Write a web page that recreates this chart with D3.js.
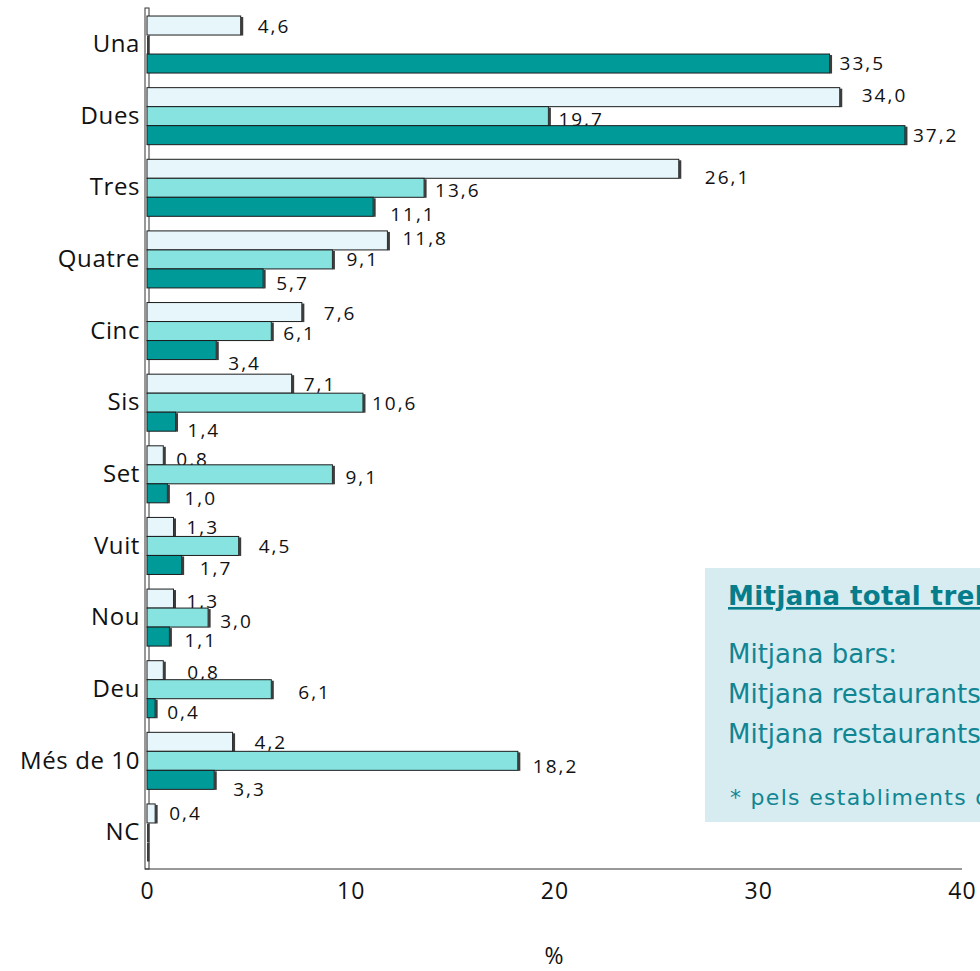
<!DOCTYPE html>
<html>
<head>
<meta charset="utf-8">
<script src="https://cdn.jsdelivr.net/npm/d3@7"></script>
<style>
  html, body { margin: 0; padding: 0; background: #fff; overflow: hidden; }
  svg { display: block; }
</style>
</head>
<body>
<svg id="chart" width="980" height="971"></svg>
<script>
// ---- data ----
const categories = ["Una", "Dues", "Tres", "Quatre", "Cinc", "Sis", "Set", "Vuit", "Nou", "Deu", "Més de 10", "NC"];
const seriesLight = [4.6, 34.0, 26.1, 11.8, 7.6, 7.1, 0.8, 1.3, 1.3, 0.8, 4.2, 0.4];
const seriesMid   = [0, 19.7, 13.6, 9.1, 6.1, 10.6, 9.1, 4.5, 3.0, 6.1, 18.2, 0];
const seriesDark  = [33.5, 37.2, 11.1, 5.7, 3.4, 1.4, 1.0, 1.7, 1.1, 0.4, 3.3, 0];
const xTicks = [0, 10, 20, 30, 40];
const axisTitle = "%";
const boxTitle = "Mitjana total treballadors*";
const boxLines = ["Mitjana bars:", "Mitjana restaurants", "Mitjana restaurants"];
const boxNote = "* pels establiments de";

// ---- layout (label nudges relative to bar end / bar centre) ----
const nudgeLight = [[17,1],[22,-2],[26,8],[15,-2],[22,1],[12,0],[13,4],[13,0],[13,3],[24,2],[22,0],[14,0]];
const nudgeMid   = [[0,0],[10,3],[11,2],[14,0],[12,2],[9,0],[13,3],[20,0],[12,4],[27,3],[15,5],[0,0]];
const nudgeDark  = [[10,0],[8,0],[17,7],[13,5],[12,13],[12,8],[17,5],[18,3],[15,4],[12,4],[19,9],[0,0]];

const series = [
  { values: seriesLight, fill: "#e7f6fa", nudge: nudgeLight },
  { values: seriesMid,   fill: "#86e3e0", nudge: nudgeMid },
  { values: seriesDark,  fill: "#009a99", nudge: nudgeDark }
];

const svg = d3.select("#chart");
const axisFont = "'Open Sans', 'Noto Sans', sans-serif";
const boxFont = "'DejaVu Sans', Verdana, sans-serif";

const x = d3.scaleLinear().domain([0, 40]).range([147, 962]);
const y0 = d3.scaleBand().domain(categories).range([8.5, 868.5]).paddingInner(0.204).paddingOuter(0.105);
const y1 = d3.scaleBand().domain([0, 1, 2]).range([0, y0.bandwidth()]);

// info box (behind)
const box = svg.append("g");
box.append("rect").attr("x", 705).attr("y", 568).attr("width", 290).attr("height", 254).attr("fill", "#d6ecf0");
box.append("text").attr("x", 728).attr("y", 605)
  .attr("font-family", boxFont).attr("font-size", 26).attr("font-weight", "bold")
  .attr("letter-spacing", 0.4)
  .attr("fill", "#077d8c").style("text-decoration", "underline")
  .text(boxTitle);
boxLines.forEach((t, i) => {
  box.append("text").attr("x", 728).attr("y", 663 + i * 40)
    .attr("font-family", boxFont).attr("font-size", 26)
    .attr("fill", "#128593").text(t);
});
box.append("text").attr("x", 730).attr("y", 805)
  .attr("font-family", boxFont).attr("font-size", 22).attr("letter-spacing", 1.3)
  .attr("fill", "#128593").text(boxNote);

// y axis "wall"
svg.append("rect").attr("x", 145).attr("y", 8).attr("width", 4).attr("height", 861)
  .attr("fill", "#fff").attr("stroke", "#333").attr("stroke-width", 1);

// bars
series.forEach((s, k) => {
  const g = svg.append("g");
  categories.forEach((c, i) => {
    const v = s.values[i];
    const yb = y0(c) + y1(k);
    const h = y1.bandwidth();
    const x0 = x(0), x1 = x(v);
    g.append("rect").attr("x", x0).attr("y", yb).attr("width", Math.max(0, x1 - x0)).attr("height", h)
      .attr("fill", s.fill).attr("stroke", "#1c1c1c").attr("stroke-width", 1);
    g.append("rect").attr("x", x1).attr("y", yb + 1).attr("width", 2.5).attr("height", h - 0.5)
      .attr("fill", "#3c3c3c");
    if (v > 0) {
      const [dx, dy] = s.nudge[i];
      svg.append("text")
        .attr("x", x1 + dx).attr("y", yb + h / 2 + dy).attr("dy", "0.36em")
        .attr("font-family", axisFont).attr("font-size", 19).attr("letter-spacing", 2)
        .attr("fill", "#111")
        .text(d3.format(".1f")(v).replace(".", ","));
    }
  });
});

// x axis
const xAxis = svg.append("g").attr("transform", "translate(0,869)")
  .call(d3.axisBottom(x).tickValues(xTicks).tickSize(0).tickPadding(14).tickFormat(d3.format("d")));
xAxis.select(".domain").attr("d", "M145,0H962").attr("stroke", "#333");
xAxis.selectAll("text").attr("font-family", axisFont).attr("font-size", 23).attr("letter-spacing", 1).attr("fill", "#111");

// y axis labels
const yAxis = svg.append("g").attr("transform", "translate(145,0)")
  .call(d3.axisLeft(y0).tickSize(0).tickPadding(5));
yAxis.select(".domain").remove();
yAxis.selectAll("text").attr("font-family", axisFont).attr("font-size", 24).attr("letter-spacing", 0.6).attr("fill", "#111");

// axis title
svg.append("text").attr("x", 554).attr("y", 964).attr("text-anchor", "middle")
  .attr("font-family", axisFont).attr("font-size", 23).attr("fill", "#111").text(axisTitle);
</script>
</body>
</html>
